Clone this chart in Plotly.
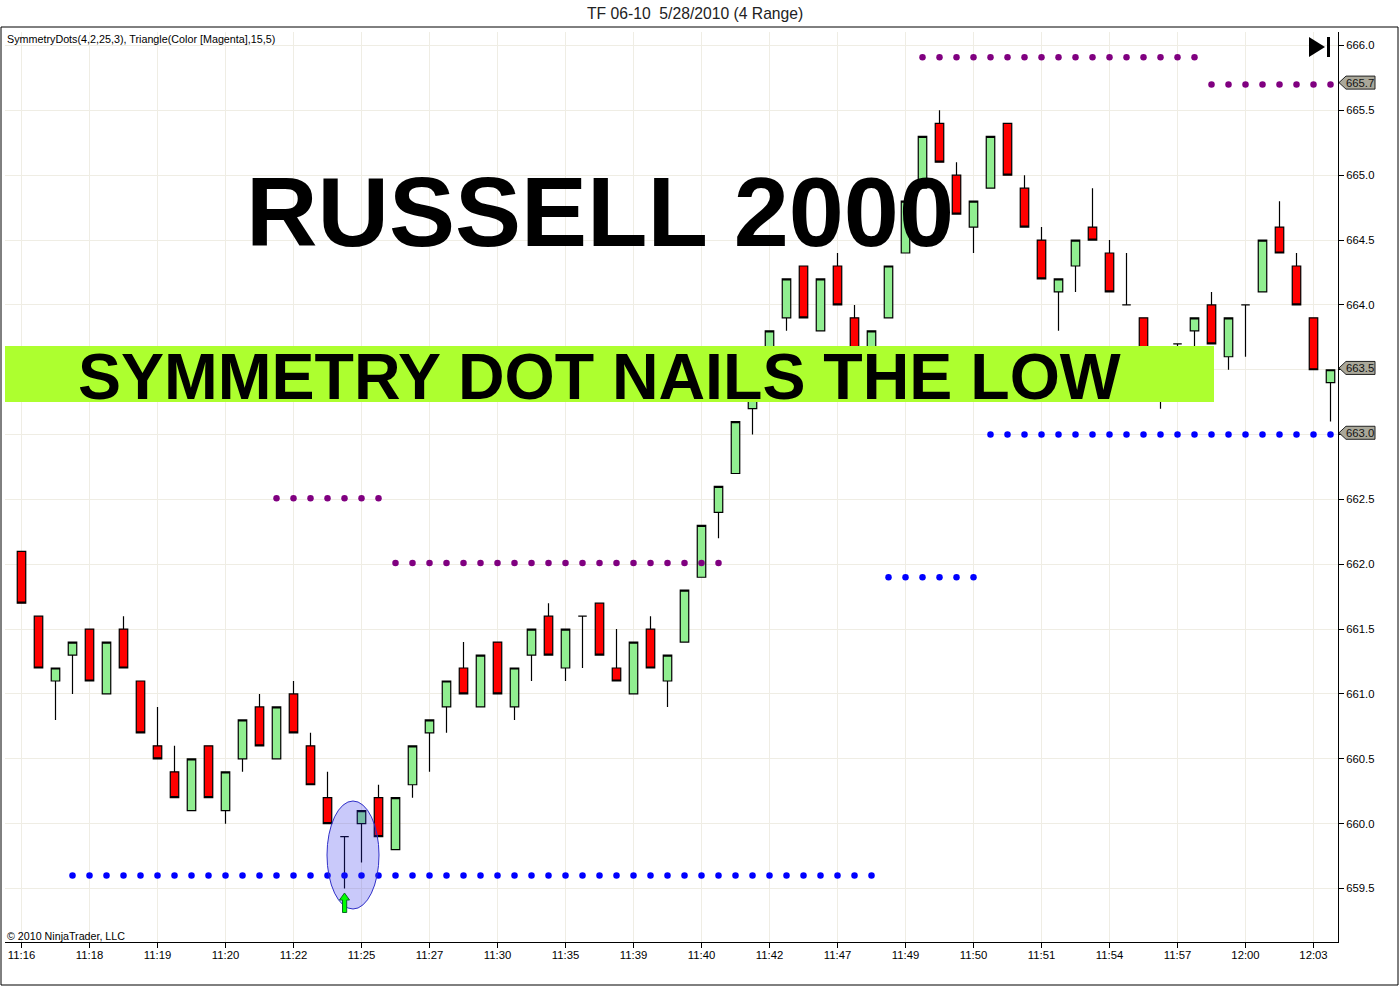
import plotly.graph_objects as go

TITLE = "TF 06-10\u00a0\u00a05/28/2010 (4 Range)"
INDICATOR_LABEL = "SymmetryDots(4,2,25,3), Triangle(Color [Magenta],15,5)"
COPYRIGHT = "\u00a9 2010 NinjaTrader, LLC"
HEADLINE = "RUSSELL 2000"
BANNER_TEXT = "SYMMETRY DOT NAILS THE LOW"

bars = list(range(78))

opens = [662.1, 661.6, 661.1, 661.3, 661.5, 661.0, 661.5, 661.1, 660.6, 660.4,
         660.1, 660.6, 660.1, 660.5, 660.9, 660.5, 661.0, 660.6, 660.2, 659.9,
         660.0, 660.2, 659.8, 660.3, 660.7, 660.9, 661.2, 660.9, 661.4, 660.9,
         661.3, 661.6, 661.2, 661.6, 661.7, 661.2, 661.0, 661.5, 661.1, 661.4,
         661.9, 662.4, 662.7, 663.2, 663.4, 663.9, 664.3, 663.8, 664.3, 663.9,
         663.5, 663.9, 664.4, 664.9, 665.4, 665.0, 664.6, 664.9, 665.4, 664.9,
         664.5, 664.1, 664.3, 664.6, 664.4, 664.0, 663.9, 663.4, 663.7, 663.8,
         664.0, 663.6, 664.0, 664.1, 664.6, 664.3, 663.9, 663.4]
highs = [662.1, 661.6, 661.2, 661.4, 661.5, 661.4, 661.6, 661.1, 660.9, 660.6,
         660.5, 660.6, 660.4, 660.8, 661.0, 660.9, 661.1, 660.7, 660.4, 659.9,
         660.1, 660.3, 660.2, 660.6, 660.8, 661.1, 661.4, 661.3, 661.4, 661.2,
         661.5, 661.7, 661.5, 661.6, 661.7, 661.5, 661.4, 661.6, 661.3, 661.8,
         662.3, 662.6, 663.1, 663.6, 663.8, 664.2, 664.3, 664.2, 664.4, 664.0,
         663.8, 664.3, 664.8, 665.3, 665.5, 665.1, 664.8, 665.3, 665.4, 665.0,
         664.6, 664.2, 664.5, 664.9, 664.5, 664.4, 663.9, 663.6, 663.7, 663.9,
         664.1, 663.9, 664.0, 664.5, 664.8, 664.4, 663.9, 663.5]
lows = [661.7, 661.2, 660.8, 661.0, 661.1, 661.0, 661.2, 660.7, 660.5, 660.2,
        660.1, 660.2, 660.0, 660.4, 660.6, 660.5, 660.7, 660.3, 660.0, 659.5,
        659.7, 659.9, 659.8, 660.2, 660.4, 660.7, 661.0, 660.9, 661.0, 660.8,
        661.1, 661.3, 661.1, 661.2, 661.3, 661.1, 661.0, 661.2, 660.9, 661.4,
        661.9, 662.2, 662.7, 663.0, 663.4, 663.8, 663.9, 663.8, 664.0, 663.5,
        663.5, 663.9, 664.4, 664.9, 665.1, 664.7, 664.4, 664.9, 665.0, 664.6,
        664.2, 663.8, 664.1, 664.5, 664.1, 664.0, 663.5, 663.2, 663.4, 663.5,
        663.7, 663.5, 663.6, 664.1, 664.4, 664.0, 663.5, 663.1]
closes = [661.7, 661.2, 661.2, 661.4, 661.1, 661.4, 661.2, 660.7, 660.5, 660.2,
          660.5, 660.2, 660.4, 660.8, 660.6, 660.9, 660.7, 660.3, 660.0, 659.9,
          660.1, 659.9, 660.2, 660.6, 660.8, 661.1, 661.0, 661.3, 661.0, 661.2,
          661.5, 661.3, 661.5, 661.6, 661.3, 661.1, 661.4, 661.2, 661.3, 661.8,
          662.3, 662.6, 663.1, 663.6, 663.8, 664.2, 663.9, 664.2, 664.0, 663.5,
          663.8, 664.3, 664.8, 665.3, 665.1, 664.7, 664.8, 665.3, 665.0, 664.6,
          664.2, 664.2, 664.5, 664.5, 664.1, 664.0, 663.5, 663.6, 663.7, 663.9,
          663.7, 663.9, 664.0, 664.5, 664.4, 664.0, 663.5, 663.5]

blue_dots = [None] * 3 + [659.6] * 48 + [661.9] * 6 + [663.0] * 21
purple_dots = ([None] * 15 + [662.51] * 7 + [662.01] * 20 + [None] * 11
               + [665.91] * 17 + [665.7] * 8)

time_tick_bars = [0, 4, 8, 12, 16, 20, 24, 28, 32, 36, 40, 44, 48, 52, 56, 60, 64, 68, 72, 76]
time_tick_labels = ["11:16", "11:18", "11:19", "11:20", "11:22", "11:25", "11:27", "11:30",
                    "11:35", "11:39", "11:40", "11:42", "11:47", "11:49", "11:50", "11:51",
                    "11:54", "11:57", "12:00", "12:03"]
price_ticks = [659.5, 660.0, 660.5, 661.0, 661.5, 662.0, 662.5, 663.0, 663.5, 664.0,
               664.5, 665.0, 665.5, 666.0]
price_tags = [665.7, 663.5, 663.0]

W, H = 1400, 986
L, R, T, B = 5, 1338, 32, 942
SANS = "Liberation Sans"
BAR0_PX, BAR_STEP = 21.5, 17
P666_PX, P6595_PX = 45.5, 888.5


def fx(px):
    return (px - L) / (R - L)


def fy(py):
    return (B - py) / (B - T)


def poly(points):
    return "M " + " L ".join(f"{fx(x):.5f},{fy(y):.5f}" for x, y in points) + " Z"


fig = go.Figure()
fig.add_trace(go.Candlestick(
    x=bars, open=opens, high=highs, low=lows, close=closes,
    increasing=dict(fillcolor="#90EE90", line=dict(color="#000000", width=1.2)),
    decreasing=dict(fillcolor="#FF0000", line=dict(color="#000000", width=1.2)),
    showlegend=False, hoverinfo="skip",
))
fig.add_trace(go.Scatter(x=bars, y=blue_dots, mode="markers", showlegend=False,
                         marker=dict(color="#0000FF", size=6.5), hoverinfo="skip"))
fig.add_trace(go.Scatter(x=bars, y=purple_dots, mode="markers", showlegend=False,
                         marker=dict(color="#800080", size=6.5), hoverinfo="skip"))

shapes = [
    # outer frame
    dict(type="rect", xref="paper", yref="paper", x0=fx(1), x1=fx(1398), y0=fy(985), y1=fy(27),
         line=dict(color="#000000", width=1), layer="above"),
    # highlight ellipse round the low
    dict(type="circle", xref="paper", yref="paper", x0=fx(327), x1=fx(379), y0=fy(909), y1=fy(801),
         fillcolor="rgba(40,40,235,0.25)", line=dict(color="#3030C8", width=1), layer="above"),
    # signal arrow
    dict(type="path", xref="paper", yref="paper",
         path=poly([(344.5, 893), (349.5, 900), (346.7, 900), (346.7, 912.5), (342.5, 912.5), (342.5, 900), (339.5, 900)]),
         fillcolor="#00FF00", line=dict(color="#0A6A28", width=1), layer="above"),
    # banner
    dict(type="rect", xref="paper", yref="paper", x0=fx(5), x1=fx(1214), y0=fy(402), y1=fy(346),
         fillcolor="#ADFF2F", line=dict(width=0), layer="above"),
    # jump-to-end icon
    dict(type="path", xref="paper", yref="paper",
         path=poly([(1309, 37), (1325, 47), (1309, 57)]), fillcolor="#000000", line=dict(width=0), layer="above"),
    dict(type="rect", xref="paper", yref="paper", x0=fx(1327), x1=fx(1330), y0=fy(57), y1=fy(37),
         fillcolor="#000000", line=dict(width=0), layer="above"),
]

y_per_unit = (P6595_PX - P666_PX) / 6.5


def price_y(p):
    return P666_PX + (666.0 - p) * y_per_unit


annotations = [
    dict(text=TITLE, x=fx(694.5), y=fy(13), font=dict(size=15.7, color="#222222")),
    dict(text=INDICATOR_LABEL, x=fx(5), y=fy(39), xanchor="left", font=dict(size=10.75, color="#000000")),
    dict(text=COPYRIGHT, x=fx(5), y=fy(936), xanchor="left", font=dict(size=10.7, color="#000000")),
    dict(text=f"<b>{HEADLINE}</b>", x=fx(600), y=fy(212), font=dict(size=99, color="#000000")),
    dict(text=f"<b>{BANNER_TEXT}</b>", x=fx(599.5), y=fy(377), font=dict(size=64.5, color="#000000")),
]
for p in price_tags:
    cy = price_y(p) - 1.8
    shapes.append(dict(type="path", xref="paper", yref="paper",
                       path=poly([(1339, cy), (1346, cy - 6.5), (1375, cy - 6.5), (1375, cy + 6.5), (1346, cy + 6.5)]),
                       fillcolor="#AAA89A", line=dict(color="#222222", width=1), layer="above"))
    annotations.append(dict(text=f"{p:.1f}", x=fx(1360), y=fy(cy), font=dict(size=11.3, color="#111111")))

for a in annotations:
    a.update(xref="paper", yref="paper", showarrow=False, yanchor="middle",
             xanchor=a.get("xanchor", "center"))
    a["font"]["family"] = SANS

fig.update_layout(
    width=W, height=H,
    margin=dict(l=L, r=W - R, t=T, b=H - B, pad=0),
    paper_bgcolor="#FFFFFF", plot_bgcolor="#FFFFFF",
    showlegend=False,
    boxgap=0.5, boxgroupgap=0,
    font=dict(family=SANS, size=11, color="#000000"),
    shapes=shapes, annotations=annotations,
    xaxis=dict(
        range=[(L - BAR0_PX) / BAR_STEP, (R - BAR0_PX) / BAR_STEP],
        rangeslider=dict(visible=False),
        tickmode="array", tickvals=time_tick_bars, ticktext=time_tick_labels,
        ticks="outside", ticklen=5, tickcolor="#000000", tickwidth=1,
        showline=True, linecolor="#000000", linewidth=1,
        showgrid=True, gridcolor="#EFEDE4", gridwidth=1, zeroline=False,
        tickfont=dict(size=11.3), ticklabelstandoff=-3,
    ),
    yaxis=dict(
        side="right",
        range=[666.0 - (B - P666_PX) / y_per_unit, 666.0 + (P666_PX - T) / y_per_unit],
        tickmode="array", tickvals=price_ticks, ticktext=[f"{v:.1f}" for v in price_ticks],
        ticks="outside", ticklen=5, tickcolor="#000000", tickwidth=1,
        showline=True, linecolor="#000000", linewidth=1,
        showgrid=True, gridcolor="#EFEDE4", gridwidth=1, zeroline=False,
        tickfont=dict(size=11.3),
    ),
)

fig.write_html("out.html", post_script="document.body.style.margin='0';document.body.style.overflow='hidden';window.dispatchEvent(new Event('resize'));",
               config=dict(displayModeBar=False))
